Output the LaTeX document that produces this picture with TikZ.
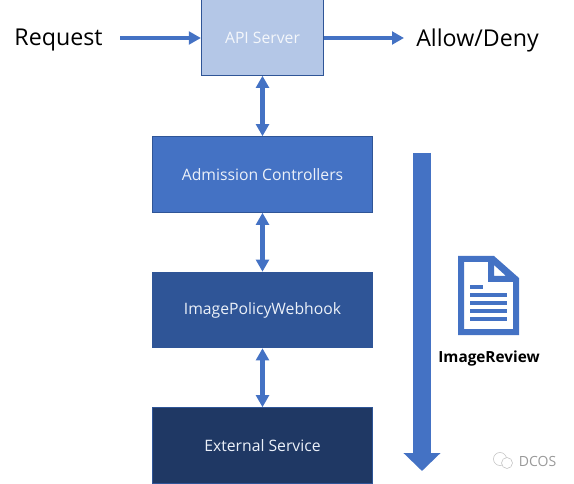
\documentclass[tikz,border=0pt]{standalone}
\usepackage{fontspec}
\setmainfont{Open Sans}
\usepackage{xcolor}
\usepackage{tikz}
\usetikzlibrary{
  arrows.meta,
  positioning
}
\definecolor{azul}{HTML}{4472C4}
\definecolor{azulclaro}{HTML}{B4C7E7}
\definecolor{azulmedio}{HTML}{2F5597}
\definecolor{azulescuro}{HTML}{1F3864}

\begin{document}
\begin{tikzpicture}[
      x=0.75pt, y=-0.75pt,
      bloco/.style={draw=azulmedio, line width=0.9pt, inner sep=0pt,
                    minimum width=165.5pt, minimum height=56.5pt,
                    align=center, text=white!90!azul, font=\fontsize{11.8}{14}\selectfont},
      rotulo/.style={font=\fontsize{17.4}{21}\selectfont, text=black, inner sep=0pt},
      seta/.style={-{Triangle[length=9pt,width=9.5pt]}, line width=3.2pt, azul},
      setadupla/.style={{Triangle[length=9pt,width=9.5pt]}-{Triangle[length=9pt,width=9.5pt]},
                    line width=3.2pt, azul},
      fluxo/.style={-{Triangle[length=13.5pt,width=27pt]}, line width=13.5pt, azul}
  ]
      \useasboundingbox (0,0) rectangle (574,484);

      % Blocos
      \node[bloco, fill=azulclaro, minimum width=91.5pt, text=white!85!azulclaro] (api) at (262.5,37.5) {API Server};
      \node[bloco, fill=azul]       (adm)  at (262.5,174.5) {Admission Controllers};
      \node[bloco, fill=azulmedio]  (wh)   at (262.5,310)   {ImagePolicyWebhook};
      \node[bloco, fill=azulescuro] (ext)  at (262.5,445.5) {External Service};

      % Entrada e saida
      \node[rotulo] (req)   at (58.5,40)  {Request};
      \node[rotulo] (allow) at (477.5,40) {Allow/Deny};
      \coordinate (reqini)   at (120,38);
      \coordinate (allowfim) at (404,38);

      % Setas
      \draw[seta] (reqini) -- (reqini -| api.west);
      \draw[seta] (reqini -| api.east) -- (allowfim);
      \draw[setadupla] (api) -- (adm);
      \draw[setadupla] (adm) -- (wh);
      \draw[setadupla] (wh) -- (ext);

      % Seta do fluxo
      \coordinate (fluxoini) at (422,153);
      \coordinate (fluxofim) at (422,471);
      \draw[fluxo] (fluxoini) -- (fluxofim);

      % Documento
      \fill[azul, even odd rule]
        (458,256) -- (494,256) -- (519,278) -- (519,335) -- (458,335) -- cycle
        (464,262) -- (488,262) -- (488,282) -- (513,282) -- (513,329) -- (464,329) -- cycle
        (494,265) -- (494,276) -- (506,276) -- cycle;
      \fill[azul] (470,285) rectangle (483,289);
      \foreach \y in {293,301,309,317}
        \fill[azul] (470,\y) rectangle (507,\y+4);
      \node[font=\fontsize{11.5}{14}\selectfont\bfseries, inner sep=0pt] (rev) at (489,359) {ImageReview};

      % Marca
      \draw[gray!50, line width=0.4pt] (500,459) circle (6.5);
      \draw[gray!50, line width=0.4pt, fill=white] (507,463) circle (5.5);
      \node[font=\fontsize{10.5}{12}\selectfont, text=gray!80, inner sep=0pt] (dcos) at (537.5,461) {DCOS};
  \end{tikzpicture}
\end{document}
